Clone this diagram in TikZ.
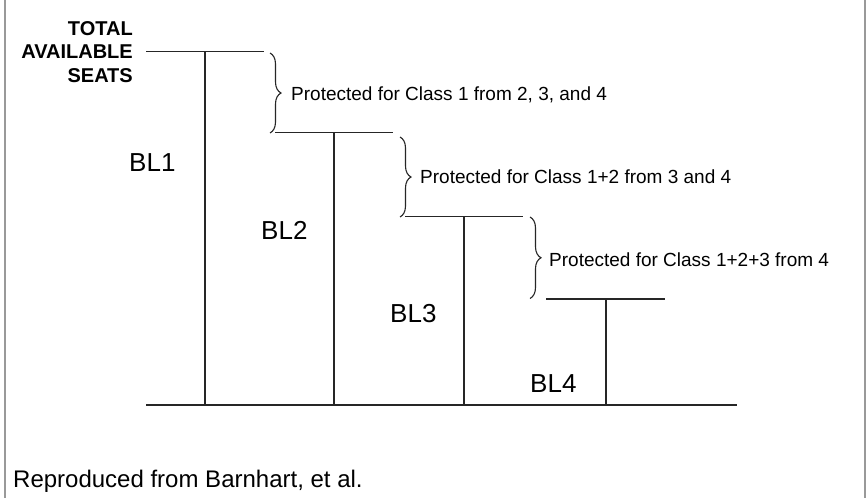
\documentclass[tikz,border=0pt]{standalone}
\usepackage{fontspec}
\setmainfont{Liberation Sans}
\usetikzlibrary{decorations.pathreplacing}
\begin{document}
\begin{tikzpicture}[x=1pt,y=-1pt,
  level/.style={draw=black!85, line width=1.4pt},
  frame/.style={draw=black!40, line width=2pt},
  bracket/.style={draw=black!85, line width=1.1pt,
    decorate, decoration={brace, amplitude=11pt}},
  bllabel/.style={font=\fontsize{26}{30}\selectfont, anchor=base west, inner sep=0pt},
  note/.style={font=\fontsize{19}{23}\selectfont, anchor=west, inner sep=0pt},
]
\useasboundingbox (0,0) rectangle (866,498);
\fill[white] (0,0) rectangle (866,498);

% side rules of the frame
\draw[frame] (4.5,0) -- (4.5,498);
\draw[frame] (864.5,0) -- (864.5,498);

% booking-limit levels: left end, right end, foot of each stem
\coordinate (l1a) at (146,51.5);  \coordinate (l1b) at (264,51.5);
\coordinate (s1t) at (205,51.5);  \coordinate (s1b) at (205,405);
\coordinate (l2a) at (275,132.5); \coordinate (l2b) at (393,132.5);
\coordinate (s2t) at (334,132.5); \coordinate (s2b) at (334,405);
\coordinate (l3a) at (405,216.5); \coordinate (l3b) at (523,216.5);
\coordinate (s3t) at (464,216.5); \coordinate (s3b) at (464,405);
\coordinate (l4a) at (546,299);   \coordinate (l4b) at (665,299);
\coordinate (s4t) at (606,299);   \coordinate (s4b) at (606,405);
\coordinate (g0) at (146,405);    \coordinate (g1) at (737,405);

\draw[level] (l1a) -- (l1b);
\draw[level] (s1t) -- (s1b);
\draw[level] (l2a) -- (l2b);
\draw[level] (s2t) -- (s2b);
\draw[level] (l3a) -- (l3b);
\draw[level] (s3t) -- (s3b);
\draw[level] (l4a) -- (l4b);
\draw[level] (s4t) -- (s4b);
\draw[level] (g0) -- (g1);

% protection-level braces
\coordinate (b1t) at (270,53);  \coordinate (b1b) at (270,133);
\coordinate (b2t) at (400,137); \coordinate (b2b) at (400,217);
\coordinate (b3t) at (530,217); \coordinate (b3b) at (530,298.5);
\draw[bracket] (b1t) -- (b1b);
\draw[bracket] (b2t) -- (b2b);
\draw[bracket] (b3t) -- (b3b);

\node[note] (p1) at (291,95) {Protected for Class 1 from 2, 3, and 4};
\node[note] (p2) at (420,177) {Protected for Class 1+2 from 3 and 4};
\node[note] (p3) at (549,260) {Protected for Class 1+2+3 from 4};

% capacity label
\node[font=\bfseries\fontsize{20}{23.5}\selectfont, align=right, anchor=east, inner sep=0pt]
  (cap) at (133,52) {TOTAL\\AVAILABLE\\SEATS};

% booking-limit names
\node[bllabel] (bl1) at (129,171) {BL1};
\node[bllabel] (bl2) at (261,239) {BL2};
\node[bllabel] (bl3) at (390,322) {BL3};
\node[bllabel] (bl4) at (530,392) {BL4};

% source line
\node[font=\fontsize{24}{28}\selectfont, anchor=base west, inner sep=0pt]
  (src) at (13,487) {Reproduced from Barnhart, et al.};
\end{tikzpicture}
\end{document}
